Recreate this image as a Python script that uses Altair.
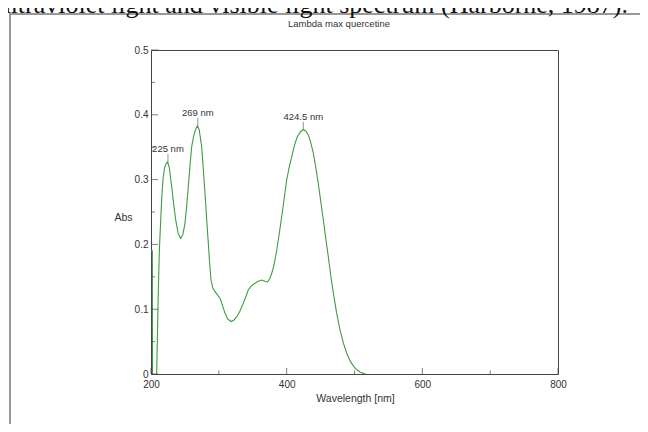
import altair as alt
import pandas as pd

# ---------------- data ----------------
wavelength_nm = [
    200, 202, 202.3, 208.3, 209.5, 210.8, 212.3, 214.3, 216, 218, 220, 222.5,
    224.6, 227, 230.5, 233.5, 236.4, 240, 243.8, 247, 250, 252.5, 255, 257.5,
    260, 263, 266, 268.5, 271, 274.7, 277, 279.6, 282, 284.5, 286.5, 288.5,
    291, 294.4, 298, 301.7, 305, 309, 313, 318, 322, 326.3, 331, 336, 340,
    343.5, 348, 353.3, 358, 363.2, 368, 372, 375, 377.9, 380.5, 382.8, 385.3,
    389, 392.7, 396.5, 400, 403.5, 407.4, 411, 414.8, 418.5, 421.5, 424.5,
    428, 431.9, 435.5, 439.3, 443, 446.6, 450.3, 454, 457.7, 461.4, 465,
    468.8, 473.5, 478.6, 483.5, 488.5, 494, 500.7, 508, 515.5, 520,
]
absorbance = [
    0.19, 0.19, -0.005, -0.005, 0.06, 0.13, 0.19, 0.238, 0.275, 0.304, 0.318, 0.325,
    0.327, 0.318, 0.289, 0.262, 0.238, 0.217, 0.209, 0.215, 0.232, 0.258, 0.289, 0.322,
    0.351, 0.368, 0.378, 0.383, 0.377, 0.351, 0.318, 0.279, 0.24, 0.202, 0.17, 0.145,
    0.133, 0.127, 0.122, 0.117, 0.107, 0.094, 0.085, 0.081, 0.083, 0.088, 0.097, 0.109, 0.12,
    0.130, 0.136, 0.140, 0.143, 0.145, 0.143, 0.142, 0.147, 0.155, 0.165, 0.176, 0.191,
    0.216, 0.243, 0.272, 0.299, 0.318, 0.335, 0.351, 0.364, 0.371, 0.375, 0.377,
    0.375, 0.369, 0.357, 0.341, 0.318, 0.294, 0.266, 0.238, 0.209, 0.181, 0.152,
    0.125, 0.095, 0.068, 0.048, 0.032, 0.019, 0.009, 0.003, 0.0, -0.01,
]

peak_nm = [225, 269, 424.5]
peak_abs = [0.327, 0.383, 0.377]
peak_labels = ["225 nm", "269 nm", "424.5 nm"]

x_major_ticks = [200, 400, 600, 800]
x_minor_ticks = [300, 500, 700]
y_major_ticks = [0, 0.1, 0.2, 0.3, 0.4, 0.5]
y_minor_ticks = [0.05, 0.15, 0.25, 0.35, 0.45]

chart_title = "Lambda max quercetine"
caption_text = "ultraviolet light and visible light spectrum (Harborne, 1987)."
x_title = "Wavelength [nm]"
y_title = "Abs"

# ---------------- tables ----------------
spec_df = pd.DataFrame({"nm": wavelength_nm, "abs": absorbance})
peak_df = pd.DataFrame({"nm": peak_nm, "abs": peak_abs, "label": peak_labels})
xmaj_df = pd.DataFrame({"nm": x_major_ticks})
xmin_df = pd.DataFrame({"nm": x_minor_ticks})
ymaj_df = pd.DataFrame({"abs": y_major_ticks})
ymin_df = pd.DataFrame({"abs": y_minor_ticks})
one_df = pd.DataFrame({"t": [chart_title], "c": [caption_text]})

W, H = 407, 324
FONT = "Liberation Sans"
xscale = alt.Scale(domain=[200, 800], nice=False, zero=False)
yscale = alt.Scale(domain=[0, 0.5], nice=False, zero=False)

x_axis = alt.Axis(values=x_major_ticks, format="d", labelFlush=False,
                  titleX=204, titleY=24, titleBaseline="middle", labelPadding=5)
y_axis = alt.Axis(values=y_major_ticks, format="~g", labelFlush=False,
                  titleAngle=0, titleX=-28, titleY=167, titleAlign="center",
                  titleBaseline="middle", labelPadding=3)


def X():
    return alt.X("nm:Q", scale=xscale, title=x_title, axis=x_axis)


def Y():
    return alt.Y("abs:Q", scale=yscale, title=y_title, axis=y_axis)


line = alt.Chart(spec_df).mark_line(
    color="#3f9b3f", strokeWidth=1.1, clip=True
).encode(x=X(), y=Y())

xmaj = alt.Chart(xmaj_df).mark_tick(orient="vertical", size=6, thickness=1, color="#444").encode(
    x=X(), y=alt.value(H - 3))
xmin = alt.Chart(xmin_df).mark_tick(orient="vertical", size=3.5, thickness=1, color="#444").encode(
    x=X(), y=alt.value(H - 1.75))
ymaj = alt.Chart(ymaj_df).mark_tick(orient="horizontal", size=7, thickness=1, color="#444").encode(
    y=Y(), x=alt.value(3.5))
ymin = alt.Chart(ymin_df).mark_tick(orient="horizontal", size=4, thickness=1, color="#444").encode(
    y=Y(), x=alt.value(2))

leaders = alt.Chart(peak_df).mark_tick(orient="vertical", size=8, thickness=1, color="#666", yOffset=-4).encode(
    x=X(), y=Y())
peak_text = alt.Chart(peak_df).mark_text(
    font=FONT, fontSize=9.5, color="#333", dy=-13, baseline="middle", align="center"
).encode(x=X(), y=Y(), text="label:N")

title_mark = alt.Chart(one_df).mark_text(
    font=FONT, fontSize=9.5, color="#333", align="center", baseline="middle"
).encode(x=alt.value(188), y=alt.value(-25.7), text="t:N")

caption_mark = alt.Chart(one_df).mark_text(
    font="Liberation Serif", fontSize=26, color="#111", align="right", baseline="alphabetic"
).encode(x=alt.value(477), y=alt.value(-37), text="c:N")

outer_box = alt.Chart(one_df).mark_rect(
    fill=None, stroke="#777", strokeWidth=1.5
).encode(x=alt.value(-141), x2=alt.value(491), y=alt.value(-36), y2=alt.value(400))

chart = alt.layer(
    line, outer_box, caption_mark, title_mark, xmaj, xmin, ymaj, ymin, leaders, peak_text
).properties(
    width=W, height=H,
    autosize=alt.AutoSizeParams(type="none"),
    padding={"left": 143, "top": 42, "right": 82, "bottom": 50},
    background="white",
).configure_view(
    stroke="#444", strokeWidth=1
).configure_axis(
    domain=False, ticks=False, tickSize=0, grid=False,
    labelFont=FONT, labelFontSize=10, labelColor="#333",
    titleFont=FONT, titleFontSize=10.5, titleColor="#333", titleFontWeight="normal",
)

chart.save("out.html", embed_options={"renderer": "svg", "actions": False})
